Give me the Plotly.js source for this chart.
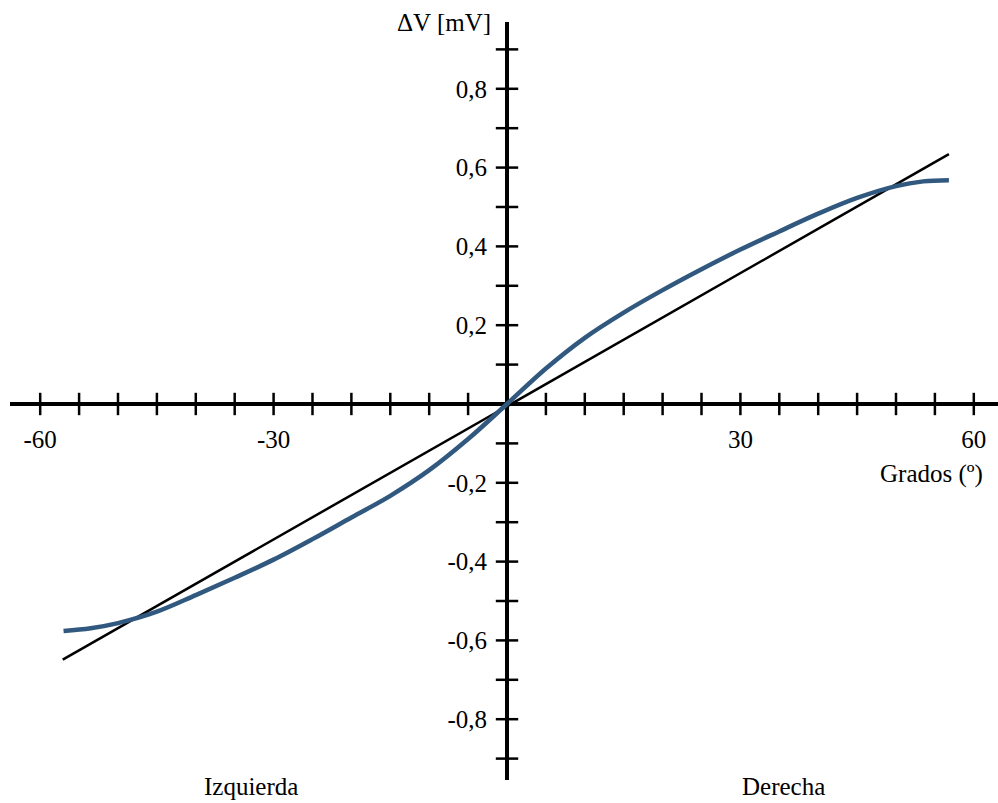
<!DOCTYPE html>
<html><head><meta charset="utf-8">
<script src="https://cdn.plot.ly/plotly-3.0.1.min.js"></script>
<style>html,body{margin:0;padding:0;background:#fff}</style>
</head><body><div id="chart" style="width:998px;height:803px"></div>
<script>
const angleBlue = [-57.0, -53.5, -50, -45, -40, -35, -30, -25, -20, -15, -10, -5, 0, 5, 10, 15, 20, 25, 30, 35, 40, 45, 50, 53.5, 56.8];
const voltBlue  = [-0.576, -0.569, -0.556, -0.527, -0.485, -0.441, -0.395, -0.343, -0.288, -0.233, -0.168, -0.089, 0, 0.090, 0.168, 0.232, 0.289, 0.342, 0.392, 0.438, 0.483, 0.523, 0.553, 0.565, 0.568];
// Linear fit (black)
const angleFit = [-57.1, 56.8];
const voltFit  = [-0.649, 0.634];
// Axis tick marks and labels
const xMarkTicks = [-60,-55,-50,-45,-40,-35,-30,-25,-20,-15,-10,-5,5,10,15,20,25,30,35,40,45,50,55,60];
const yMarkTicks = [-0.9,-0.8,-0.7,-0.6,-0.5,-0.4,-0.3,-0.2,-0.1,0.1,0.2,0.3,0.4,0.5,0.6,0.7,0.8,0.9];
const xLabelVals = [-60, -30, 30, 60];
const xLabelText = ['-60', '-30', '30', '60'];
const yLabelVals = [-0.8, -0.6, -0.4, -0.2, 0.2, 0.4, 0.6, 0.8];
const yLabelText = ['-0,8', '-0,6', '-0,4', '-0,2', '0,2', '0,4', '0,6', '0,8'];

const FONT = 'Liberation Serif, Times New Roman, serif';
const xRange = [-63.88, 63.11];
const yRange = [-0.9543, 0.9695];
const xAxisPos = (0 - yRange[0]) / (yRange[1] - yRange[0]);
const yAxisPos = (0 - xRange[0]) / (xRange[1] - xRange[0]);

const traces = [
  {x: xMarkTicks, y: xMarkTicks.map(() => 0), mode: 'markers', type: 'scatter',
   marker: {symbol: 'line-ns', size: 16, color: '#000', line: {color: '#000', width: 2.5}}},
  {x: yMarkTicks.map(() => 0), y: yMarkTicks, mode: 'markers', type: 'scatter',
   marker: {symbol: 'line-ew', size: 16, color: '#000', line: {color: '#000', width: 2.5}}},
  {x: angleFit, y: voltFit, mode: 'lines', type: 'scatter', line: {color: '#000', width: 2.5}},
  {x: angleBlue, y: voltBlue, mode: 'lines', type: 'scatter',
   line: {color: '#31597F', width: 4.5, shape: 'spline', smoothing: 1}}
];

const layout = {
  width: 998, height: 803,
  margin: {l: 10, r: 0, t: 22, b: 23},
  paper_bgcolor: '#fff', plot_bgcolor: '#fff',
  showlegend: false, hovermode: false,
  font: {family: FONT, size: 25, color: '#000'},
  xaxis: {
    range: xRange, anchor: 'free', position: xAxisPos,
    showgrid: false, showline: false, zeroline: true, zerolinecolor: '#000', zerolinewidth: 3.5,
    tickmode: 'array', tickvals: xLabelVals, ticktext: xLabelText, ticks: '',
    ticklabelstandoff: 18, tickfont: {family: FONT, size: 25, color: '#000'}
  },
  yaxis: {
    range: yRange, anchor: 'free', position: yAxisPos,
    showgrid: false, showline: false, zeroline: true, zerolinecolor: '#000', zerolinewidth: 3.5,
    tickmode: 'array', tickvals: yLabelVals, ticktext: yLabelText, ticks: '',
    ticklabelstandoff: 20, tickfont: {family: FONT, size: 25, color: '#000'}
  },
  annotations: [
    {text: 'ΔV [mV]', xref: 'paper', yref: 'paper', x: 0.4889, y: 1.0, xanchor: 'right', yanchor: 'middle', showarrow: false, font: {family: FONT, size: 25, color: '#000'}},
    {text: 'Grados (º)', xref: 'paper', yref: 'paper', x: 0.9868, y: 0.4037, xanchor: 'right', yanchor: 'middle', showarrow: false, font: {family: FONT, size: 25, color: '#000'}},
    {text: 'Izquierda', xref: 'paper', yref: 'paper', x: 0.2439, y: -0.0092, xanchor: 'center', yanchor: 'middle', showarrow: false, font: {family: FONT, size: 25, color: '#000'}},
    {text: 'Derecha', xref: 'paper', yref: 'paper', x: 0.7824, y: -0.0092, xanchor: 'center', yanchor: 'middle', showarrow: false, font: {family: FONT, size: 25, color: '#000'}}
  ]
};

Plotly.newPlot('chart', traces, layout, {staticPlot: true, displayModeBar: false});
</script>
</body></html>
